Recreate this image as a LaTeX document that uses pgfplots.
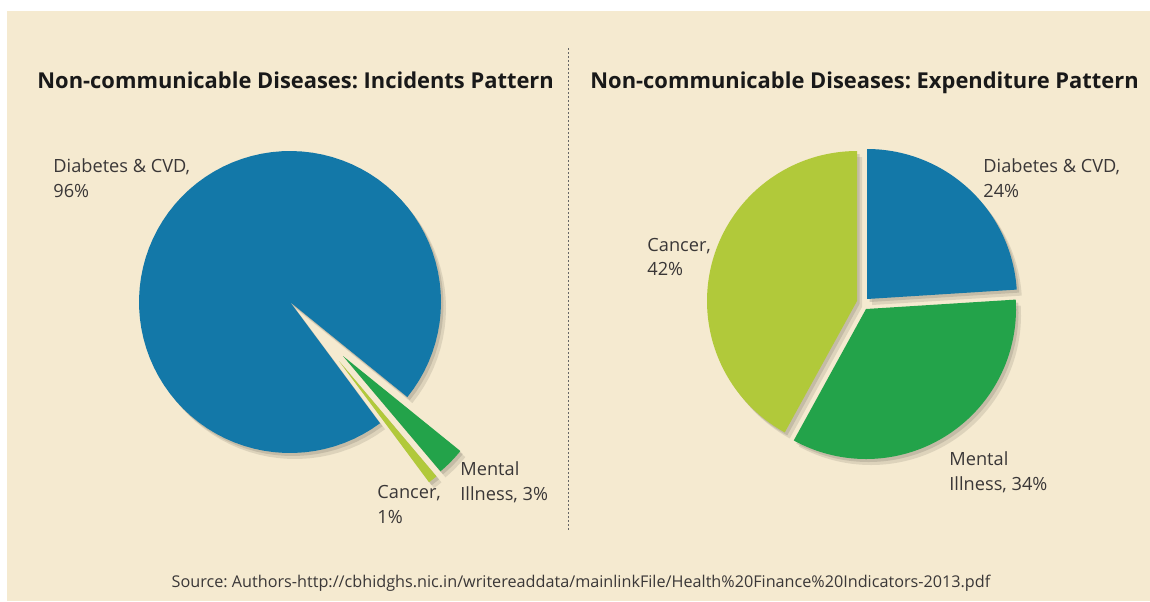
\documentclass[border=0pt]{standalone}
\usepackage{pgfplots}
\pgfplotsset{compat=1.18}
\usepackage{fontspec}
\setmainfont{Open Sans}
\frenchspacing
\definecolor{bg}{RGB}{245,234,208}
\definecolor{cblue}{RGB}{19,120,168}
\definecolor{cgreen}{RGB}{35,163,74}
\definecolor{clime}{RGB}{177,201,58}
\definecolor{shad}{RGB}{150,144,128}
\definecolor{txt}{RGB}{58,55,55}
% data (percent)
\def\LDia{96}\def\LMen{3}\def\LCan{1}
\def\RDia{24}\def\RMen{34}\def\RCan{42}
\newcommand{\pieslice}[6]{% color, cx, cy, r, a, b
  \addplot[fill=shad, fill opacity=0.25, draw=none, domain=#5:#6, samples=90, variable=\t]
    ({#2+5+#4*cos(\t)},{#3+6-#4*sin(\t)}) -- (axis cs:#2+5,#3+6) -- cycle;
  \addplot[fill=shad, fill opacity=0.35, draw=none, domain=#5:#6, samples=90, variable=\t]
    ({#2+2.5+#4*cos(\t)},{#3+3-#4*sin(\t)}) -- (axis cs:#2+2.5,#3+3) -- cycle;
  \addplot[fill=#1, draw=none, domain=#5:#6, samples=90, variable=\t]
    ({#2+#4*cos(\t)},{#3-#4*sin(\t)}) -- (axis cs:#2,#3) -- cycle;
}
\pgfmathsetmacro{\la}{-39}
\pgfmathsetmacro{\lb}{\la+3.6*\LDia}
\pgfmathsetmacro{\lc}{\lb+3.6*\LCan}
\pgfmathsetmacro{\ld}{\lc+3.6*\LMen}
\pgfmathsetmacro{\ra}{90}
\pgfmathsetmacro{\rb}{\ra-3.6*\RDia}
\pgfmathsetmacro{\rc}{\rb-3.6*\RMen}
\pgfmathsetmacro{\rd}{\rc-3.6*\RCan}
\begin{document}
\begin{tikzpicture}
\begin{axis}[width=575pt,height=300.5pt,scale only axis,
  xmin=0,xmax=1150,ymin=0,ymax=601,y dir=reverse,hide axis,clip=false]
\fill[white] (axis cs:0,0) rectangle (axis cs:1150,601);
\fill[bg] (axis cs:7,11) rectangle (axis cs:1150,601);
\draw[gray!80!black, line width=0.5pt, dash pattern=on 1.2pt off 0.8pt] (axis cs:568,48) -- (axis cs:568,530);
% left pie
\pieslice{cblue}{290}{302}{151}{\la}{\lb}
\pieslice{clime}{339}{361}{151}{\lb}{\lc}
\pieslice{cgreen}{343}{356}{151}{\lc}{\ld}
% right pie
\pieslice{cblue}{867}{299}{150}{\rb}{\ra}
\pieslice{cgreen}{866}{309}{150}{\rc}{\rb}
\pieslice{clime}{857}{301}{150}{\rd}{\rc}
% titles
\node[anchor=base west, inner sep=0pt, font=\fontsize{10.95}{13}\selectfont\bfseries, text=black!90] at (axis cs:37,88) {Non-communicable Diseases: Incidents Pattern};
\node[anchor=base west, inner sep=0pt, font=\fontsize{10.95}{13}\selectfont\bfseries, text=black!90] at (axis cs:590,88) {Non-communicable Diseases: Expenditure Pattern};
% labels
\tikzset{lab/.style={anchor=base west, inner sep=0pt, font=\fontsize{9.1}{11}\selectfont, text=txt}}
\node[lab] at (axis cs:53,172) {Diabetes \& CVD,};
\node[lab] at (axis cs:53,197) {96\%};
\node[lab] at (axis cs:460,475) {Mental};
\node[lab] at (axis cs:460,500) {Illness, 3\%};
\node[lab] at (axis cs:377,498) {Cancer,};
\node[lab] at (axis cs:377,523) {1\%};
\node[lab] at (axis cs:983,172) {Diabetes \& CVD,};
\node[lab] at (axis cs:983,197) {24\%};
\node[lab] at (axis cs:647,251) {Cancer,};
\node[lab] at (axis cs:647,275) {42\%};
\node[lab] at (axis cs:949,465) {Mental};
\node[lab] at (axis cs:949,490) {Illness, 34\%};
\node[anchor=base, inner sep=0pt, font=\fontsize{8.1}{10}\selectfont, text=txt] at (axis cs:581,587) {Source: Authors-http://cbhidghs.nic.in/writereaddata/mainlinkFile/Health\%20Finance\%20Indicators-2013.pdf};
\end{axis}
\end{tikzpicture}
\end{document}
